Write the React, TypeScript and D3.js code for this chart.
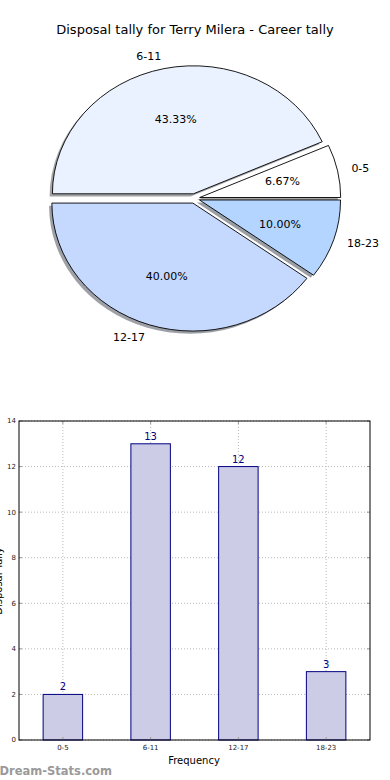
import React from "react";
import * as d3 from "d3";

const categories = ["0-5", "6-11", "12-17", "18-23"];
const counts = [2, 13, 12, 3];
const pieColors = ["#ffffff", "#ebf2ff", "#c5d9ff", "#b3d5ff"];
const yTicks = [0, 2, 4, 6, 8, 10, 12, 14];

const W = 390;
const H = 780;
const FONT = "DejaVu Sans, sans-serif";

function shade(c: string) {
  const col = d3.rgb(c);
  return d3.rgb(col.r * 0.3, col.g * 0.3, col.b * 0.3).toString();
}

export default function App() {
  // Pie (matplotlib-like, counter-clockwise from east)
  const cx = 194.5;
  const cy = 198.5;
  const rx = 141;
  const ry = 128;
  const explode = 0.0375;
  const total = d3.sum(counts);
  const pieGen = d3.pie<number>().sort(null).startAngle(0).endAngle(2 * Math.PI);
  const arcs = pieGen(counts);

  const wedgePath = (a0: number, a1: number, ox: number, oy: number) => {
    const x0 = ox + rx * Math.cos(a0);
    const y0 = oy - ry * Math.sin(a0);
    const x1 = ox + rx * Math.cos(a1);
    const y1 = oy - ry * Math.sin(a1);
    const large = a1 - a0 > Math.PI ? 1 : 0;
    return `M${ox},${oy}L${x0},${y0}A${rx},${ry} 0 ${large} 0 ${x1},${y1}Z`;
  };

  const wedges = arcs.map((a, i) => {
    const a0 = a.startAngle;
    const a1 = a.endAngle;
    const m = (a0 + a1) / 2;
    const ox = cx + explode * rx * Math.cos(m);
    const oy = cy - explode * ry * Math.sin(m);
    return {
      i,
      m,
      ox,
      oy,
      d: wedgePath(a0, a1, ox, oy),
      lx: ox + 1.1 * rx * Math.cos(m),
      ly: oy - 1.1 * ry * Math.sin(m),
      px: ox + 0.6 * rx * Math.cos(m),
      py: oy - 0.6 * ry * Math.sin(m),
      pct: ((a.data / total) * 100).toFixed(2) + "%",
    };
  });

  // Bar chart
  const left = 19;
  const right = 370;
  const top = 421;
  const bottom = 740;
  const x = d3.scaleLinear().domain([-0.5, categories.length - 0.5]).range([left, right]);
  const y = d3.scaleLinear().domain([0, 14]).range([bottom, top]);
  const bw = x(0.45) - x(0);

  return (
    <svg width={W} height={H} style={{ position: "absolute", left: 0, top: 0 }} fontFamily={FONT}>
      <rect x={0} y={0} width={W} height={H} fill="#ffffff" />
      <text x={195} y={34} textAnchor="middle" fontSize={13} fill="#000">
        Disposal tally for Terry Milera - Career tally
      </text>

      {wedges.map((w) => (
        <path
          key={"s" + w.i}
          d={w.d}
          transform="translate(-2.8,2.6)"
          fill={shade(pieColors[w.i])}
          fillOpacity={0.5}
          stroke="none"
        />
      ))}
      {wedges.map((w) => (
        <path key={"w" + w.i} d={w.d} fill={pieColors[w.i]} stroke="#000" strokeWidth={0.9} />
      ))}
      {wedges.map((w) => (
        <text
          key={"l" + w.i}
          x={w.lx}
          y={w.ly}
          dy="0.35em"
          fontSize={11}
          textAnchor={Math.cos(w.m) > 0 ? "start" : "end"}
          fill="#000"
        >
          {categories[w.i]}
        </text>
      ))}
      {wedges.map((w) => (
        <text key={"p" + w.i} x={w.px} y={w.py} dy="0.35em" fontSize={11} textAnchor="middle" fill="#000">
          {w.pct}
        </text>
      ))}

      {/* bar chart grid */}
      {yTicks.map((t) => (
        <line
          key={"gy" + t}
          x1={left}
          x2={right}
          y1={y(t)}
          y2={y(t)}
          stroke="#b8b8b8"
          strokeDasharray="1,2"
          strokeWidth={1}
        />
      ))}
      {categories.map((c, i) => (
        <line
          key={"gx" + c}
          x1={x(i)}
          x2={x(i)}
          y1={top}
          y2={bottom}
          stroke="#b8b8b8"
          strokeDasharray="1,2"
          strokeWidth={1}
        />
      ))}

      {counts.map((v, i) => (
        <g key={"b" + i}>
          <rect
            x={x(i) - bw / 2}
            y={y(v)}
            width={bw}
            height={y(0) - y(v)}
            fill="#ccccE6"
            stroke="#000080"
            strokeWidth={1}
          />
          <text x={x(i)} y={y(v) - 4} textAnchor="middle" fontSize={10} fill="#000080">
            {v}
          </text>
        </g>
      ))}

      {/* ticks */}
      {yTicks.map((t) => (
        <g key={"ty" + t}>
          <line x1={left} x2={left + 3} y1={y(t)} y2={y(t)} stroke="#999" />
          <line x1={right - 3} x2={right} y1={y(t)} y2={y(t)} stroke="#999" />
          <text x={left - 3} y={y(t)} dy="0.35em" textAnchor="end" fontSize={7} fill="#222">
            {t}
          </text>
        </g>
      ))}
      {categories.map((c, i) => (
        <g key={"tx" + c}>
          <line x1={x(i)} x2={x(i)} y1={bottom} y2={bottom - 3} stroke="#999" />
          <line x1={x(i)} x2={x(i)} y1={top} y2={top + 3} stroke="#999" />
          <text x={x(i)} y={bottom + 10} textAnchor="middle" fontSize={7} fill="#222">
            {c}
          </text>
        </g>
      ))}

      <rect x={left} y={top} width={right - left} height={bottom - top} fill="none" stroke="#000" strokeWidth={1} />

      <text x={194} y={764} textAnchor="middle" fontSize={10} fill="#000">
        Frequency
      </text>
      <text
        transform={`translate(1.5,581) rotate(-90)`}
        textAnchor="middle"
        fontSize={10}
        fill="#000"
      >
        Disposal Tally
      </text>
      <text x={-0.5} y={775} fontSize={11.5} fill="#9a9a9a" fontWeight={600}>
        Dream-Stats.com
      </text>
    </svg>
  );
}
